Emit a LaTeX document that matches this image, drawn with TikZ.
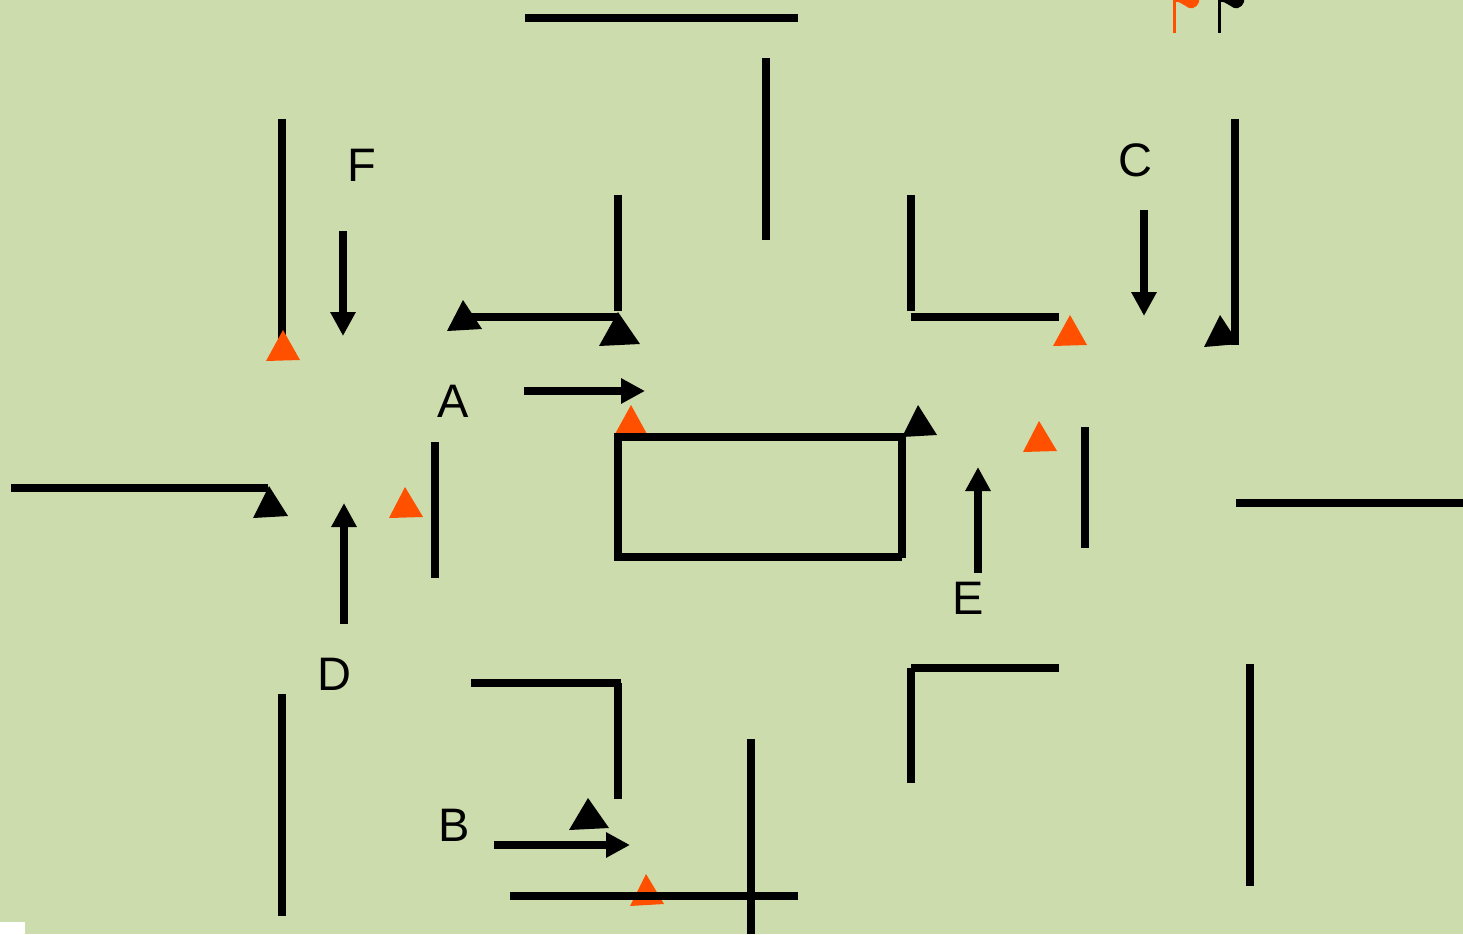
\documentclass[tikz,border=0pt]{standalone}
\usepackage{fontspec}
\setmainfont{Liberation Sans}
\usetikzlibrary{arrows.meta}
\definecolor{bgc}{HTML}{CDDCAC}
\definecolor{org}{HTML}{FF5000}
\tikzset{
  wall/.style={line width=8pt,black},
  arr/.style={line width=8pt,black,-{Triangle[length=24pt,width=24pt]}},
  tb/.style={fill=black},
  to/.style={fill=org},
  lab/.style={font=\fontsize{47pt}{47pt}\selectfont,text=black,inner sep=0pt}
}
\begin{document}
\begin{tikzpicture}[x=1pt,y=-1pt]
\useasboundingbox (0,0) rectangle (1463,934);
\fill[bgc] (0,0) rectangle (1463,934);
\fill[white] (0,922) rectangle (25,934);
% triangles lying under the walls
\fill[to] (631,405) -- (615,434) -- (647,434) -- cycle;
\fill[to] (646,874) -- (630,906) -- (664,904) -- cycle;
% walls
\draw[wall] (525,18.5) -- (798,18.5);
\draw[wall] (766,58) -- (766,240);
\draw[wall] (282,119) -- (282,345);
\draw[wall] (618,195) -- (618,311);
\draw[wall] (911,195) -- (911,311);
\draw[wall] (468,317) -- (618,317);
\draw[wall] (911,317) -- (1059,317);
\draw[wall] (1235,119) -- (1235,345);
\draw[wall] (11,488) -- (268,488);
\draw[wall] (435,442) -- (435,578);
\draw[wall] (1085,427) -- (1085,548);
\draw[wall] (1236,503) -- (1463,503);
\draw[wall] (614,436.5) -- (902,436.5);
\draw[wall] (618,440) -- (618,561);
\draw[wall] (614,557) -- (902,557);
\draw[wall] (902,433) -- (902,558);
\draw[wall] (471,683) -- (621,683);
\draw[wall] (618,683) -- (618,799);
\draw[wall] (911,668) -- (1059,668);
\draw[wall] (911,668) -- (911,783);
\draw[wall] (282,694) -- (282,916);
\draw[wall] (1250,664) -- (1250,886);
\draw[wall] (751,739) -- (751,934);
\draw[wall] (510,896) -- (798,896);
% triangles
\fill[to] (283,330) -- (266,361) -- (300,360) -- cycle;
\fill[tb] (463,300) -- (447,331) -- (482,329) -- cycle;
\fill[tb] (618,312) -- (599,346) -- (640,344) -- cycle;
\fill[tb] (918,405) -- (902,437) -- (937,435) -- cycle;
\fill[to] (1070,315) -- (1053,346) -- (1087,345) -- cycle;
\fill[tb] (1220,315) -- (1204,347) -- (1239,344) -- cycle;
\fill[to] (1039,421) -- (1023,452) -- (1057,451) -- cycle;
\fill[tb] (269,486) -- (253,518) -- (288,516) -- cycle;
\fill[to] (405,487) -- (389,518) -- (423,517) -- cycle;
\fill[tb] (588,798) -- (569,830) -- (609,828) -- cycle;
% arrows
\coordinate (f1) at (343,231); \coordinate (f2) at (343,336);
\coordinate (c1) at (1144,210); \coordinate (c2) at (1144,316);
\coordinate (a1) at (524,391); \coordinate (a2) at (645,391);
\coordinate (d1) at (344,624); \coordinate (d2) at (344,503);
\coordinate (e1) at (978,573); \coordinate (e2) at (978,467);
\coordinate (b1) at (494,845); \coordinate (b2) at (630,845);
\draw[arr] (f1) -- (f2);
\draw[arr] (c1) -- (c2);
\draw[arr] (a1) -- (a2);
\draw[arr] (d1) -- (d2);
\draw[arr] (e1) -- (e2);
\draw[arr] (b1) -- (b2);
% labels
\node[lab] (F) at (362,165) {F};
\node[lab] (C) at (1135,160) {C};
\node[lab] (A) at (453.5,401.5) {A};
\node[lab] (E) at (968,598) {E};
\node[lab] (D) at (334,674) {D};
\node[lab] (B) at (454,825) {B};
% flags
\draw[org,line width=3pt] (1174,0) -- (1174,33.5);
\fill[org] (1173,0) -- (1173,2) .. controls (1183,0) and (1186,10) .. (1193,8) .. controls (1196,7) and (1198,5) .. (1199,2) -- (1199,0) -- cycle;
\draw[black,line width=3pt] (1219,0) -- (1219,33.5);
\fill[black] (1218,0) -- (1218,2) .. controls (1228,0) and (1231,10) .. (1238,8) .. controls (1241,7) and (1243,5) .. (1244,2) -- (1244,0) -- cycle;
\end{tikzpicture}
\end{document}
